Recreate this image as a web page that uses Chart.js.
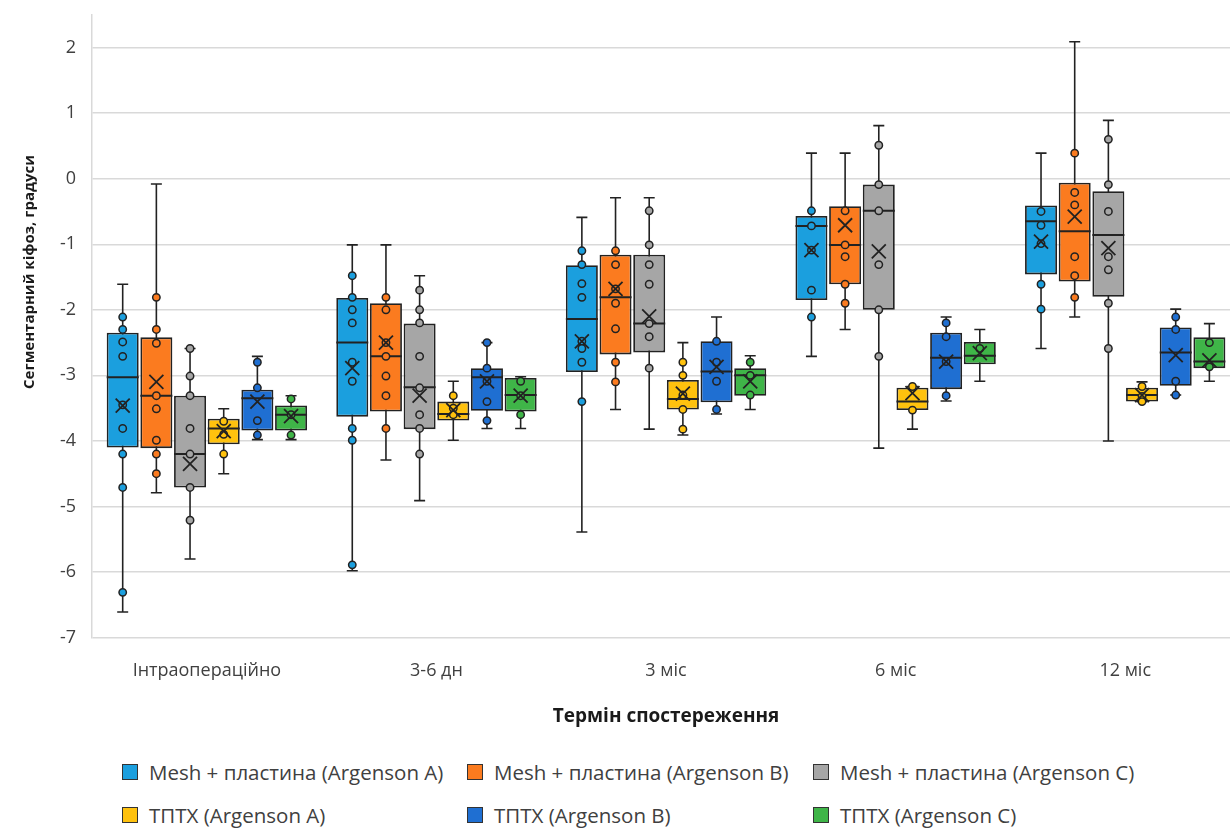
<!DOCTYPE html>
<html>
<head>
<meta charset="utf-8">
<script src="https://cdn.jsdelivr.net/npm/chart.js@4/dist/chart.umd.min.js"></script>
<style>
  html, body { margin: 0; padding: 0; background: #fff; overflow: hidden; }
  body { width: 1230px; height: 828px; position: relative; font-family: 'Open Sans', sans-serif; }
  #wrap { position: absolute; left: 0; top: -12px; width: 1240px; height: 744px; }
  #legend { position: absolute; left: 0; top: 748px; width: 1230px; }
  .item { position: absolute; display: flex; align-items: center; font-size: 20.5px; color: #404040; white-space: nowrap; }
  .sw { width: 16px; height: 16px; border: 1.5px solid #333; margin-right: 11px; box-sizing: border-box; }
</style>
</head>
<body>
<div id="wrap"><canvas id="chart"></canvas></div>
<div id="legend"></div>
<script>
// categories and series
const categories = ['Інтраопераційно', '3-6 дн', '3 міс', '6 міс', '12 міс'];
const seriesNames = [
  'Mesh + пластина (Argenson A)', 'Mesh + пластина (Argenson B)', 'Mesh + пластина (Argenson C)',
  'ТПТХ (Argenson A)', 'ТПТХ (Argenson B)', 'ТПТХ (Argenson C)'
];
const colors = ['#1b9fde', '#fb7b1f', '#a6a6a6', '#ffc20e', '#1f6fd2', '#3fb548'];
const yTicks = [-7, -6, -5, -4, -3, -2, -1, 0, 1, 2];
const yTitle = 'Сегментарний кіфоз, градуси';

// [min, q1, median, q3, max, mean] per category
const meshA = [
  [-6.61, -4.10, -3.03, -2.35, -1.61, -3.46],
  [-5.98, -3.63, -2.50, -1.82, -1.01, -2.89],
  [-5.39, -2.95, -2.14, -1.32, -0.59, -2.48],
  [-2.71, -1.85, -0.72, -0.57, 0.39, -1.09],
  [-2.59, -1.46, -0.65, -0.41, 0.39, -0.96]
];
const meshB = [
  [-4.79, -4.11, -3.31, -2.42, -0.08, -3.10],
  [-4.29, -3.55, -2.71, -1.90, -1.01, -2.50],
  [-3.52, -2.68, -1.81, -1.16, -0.29, -1.68],
  [-2.30, -1.61, -1.01, -0.42, 0.39, -0.71],
  [-2.11, -1.57, -0.80, -0.06, 2.09, -0.58]
];
const meshC = [
  [-5.80, -4.71, -4.20, -3.31, -2.59, -4.35],
  [-4.91, -3.82, -3.18, -2.21, -1.48, -3.31],
  [-3.82, -2.65, -2.21, -1.16, -0.29, -2.10],
  [-4.11, -2.00, -0.49, -0.09, 0.81, -1.11],
  [-4.00, -1.80, -0.86, -0.19, 0.89, -1.06]
];
const tpthA = [
  [-4.50, -4.05, -3.81, -3.66, -3.51, -3.85],
  [-3.99, -3.69, -3.59, -3.40, -3.09, -3.53],
  [-3.91, -3.52, -3.36, -3.07, -2.50, -3.28],
  [-3.82, -3.53, -3.40, -3.19, -3.17, -3.27],
  [-3.40, -3.40, -3.30, -3.19, -3.10, -3.30]
];
const tpthB = [
  [-3.98, -3.84, -3.35, -3.22, -2.71, -3.40],
  [-3.81, -3.54, -3.03, -2.89, -2.50, -3.09],
  [-3.59, -3.41, -2.94, -2.48, -2.11, -2.87],
  [-3.39, -3.21, -2.73, -2.35, -2.11, -2.79],
  [-3.30, -3.16, -2.65, -2.27, -1.99, -2.69]
];
const tpthC = [
  [-3.98, -3.84, -3.60, -3.46, -3.31, -3.62],
  [-3.81, -3.55, -3.30, -3.04, -3.02, -3.31],
  [-3.52, -3.31, -3.00, -2.89, -2.70, -3.09],
  [-3.09, -2.83, -2.70, -2.49, -2.30, -2.66],
  [-3.09, -2.89, -2.79, -2.42, -2.21, -2.77]
];

// individual points per category
const meshAPts = [
  [-2.11, -2.30, -2.49, -2.71, -3.45, -3.81, -4.20, -4.71, -6.31],
  [-1.48, -1.81, -2.00, -2.20, -2.80, -3.09, -3.81, -3.99, -5.89],
  [-1.10, -1.31, -1.60, -1.81, -2.48, -2.59, -2.80, -3.40],
  [-0.49, -0.72, -1.09, -1.70, -2.11],
  [-0.50, -0.71, -0.99, -1.61, -1.99]
];
const meshBPts = [
  [-1.81, -2.30, -2.51, -3.31, -3.51, -3.99, -4.20, -4.50],
  [-1.81, -2.00, -2.50, -2.71, -3.01, -3.31, -3.81],
  [-1.10, -1.31, -1.68, -1.90, -2.29, -2.80, -3.10],
  [-0.49, -1.01, -1.19, -1.61, -1.90],
  [0.39, -0.21, -0.40, -1.19, -1.48, -1.81]
];
const meshCPts = [
  [-2.59, -3.01, -3.31, -3.81, -4.20, -4.71, -5.21],
  [-1.70, -2.00, -2.20, -2.71, -3.19, -3.60, -3.81, -4.20],
  [-0.49, -1.01, -1.31, -1.61, -2.21, -2.41, -2.89],
  [0.51, -0.09, -0.49, -1.31, -2.00, -2.71],
  [0.60, -0.09, -0.50, -1.19, -1.39, -1.90, -2.59]
];
const tpthAPts = [
  [-3.70, -3.90, -4.20],
  [-3.31, -3.50, -3.60],
  [-2.80, -3.00, -3.30, -3.52, -3.82],
  [-3.17, -3.53],
  [-3.17, -3.32, -3.40]
];
const tpthBPts = [
  [-2.80, -3.19, -3.69, -3.91],
  [-2.50, -2.89, -3.09, -3.40, -3.69],
  [-2.48, -2.80, -3.09, -3.52],
  [-2.20, -2.41, -2.79, -3.31],
  [-2.11, -2.30, -3.09, -3.30]
];
const tpthCPts = [
  [-3.36, -3.60, -3.91],
  [-3.09, -3.31, -3.60],
  [-2.80, -3.00, -3.30],
  [-2.59],
  [-2.50, -2.87]
];

const stats = [meshA, meshB, meshC, tpthA, tpthB, tpthC];
const points = [meshAPts, meshBPts, meshCPts, tpthAPts, tpthBPts, tpthCPts];

Chart.defaults.font.family = "'Open Sans', sans-serif";
Chart.defaults.color = '#404040';

const INK = '#222';

// whiskers behind the boxes, median / mean / points on top
const boxPlot = {
  id: 'boxPlot',
  beforeDatasetsDraw(chart) {
    const ctx = chart.ctx;
    const y = chart.scales.y;
    ctx.save();
    ctx.strokeStyle = INK;
    ctx.lineWidth = 1.6;
    stats.forEach((series, i) => {
      chart.getDatasetMeta(i).data.forEach((bar, j) => {
        const s = series[j];
        const yMin = y.getPixelForValue(s[0]);
        const yMax = y.getPixelForValue(s[4]);
        ctx.beginPath();
        ctx.moveTo(bar.x, yMax);
        ctx.lineTo(bar.x, yMin);
        ctx.moveTo(bar.x - 5.5, yMax);
        ctx.lineTo(bar.x + 5.5, yMax);
        ctx.moveTo(bar.x - 5.5, yMin);
        ctx.lineTo(bar.x + 5.5, yMin);
        ctx.stroke();
      });
    });
    ctx.restore();
  },
  afterDatasetsDraw(chart) {
    const ctx = chart.ctx;
    const y = chart.scales.y;
    ctx.save();
    stats.forEach((series, i) => {
      chart.getDatasetMeta(i).data.forEach((bar, j) => {
        const s = series[j];
        const half = bar.width / 2;
        ctx.strokeStyle = INK;
        ctx.lineWidth = 2;
        const ym = y.getPixelForValue(s[2]);
        ctx.beginPath();
        ctx.moveTo(bar.x - half, ym);
        ctx.lineTo(bar.x + half, ym);
        ctx.stroke();
        ctx.lineWidth = 1.5;
        ctx.fillStyle = colors[i];
        points[i][j].forEach(v => {
          ctx.beginPath();
          ctx.arc(bar.x, y.getPixelForValue(v), 3.7, 0, Math.PI * 2);
          ctx.fill();
          ctx.stroke();
        });
        const yMean = y.getPixelForValue(s[5]);
        ctx.lineWidth = 1.8;
        ctx.beginPath();
        ctx.moveTo(bar.x - 7, yMean - 7);
        ctx.lineTo(bar.x + 7, yMean + 7);
        ctx.moveTo(bar.x + 7, yMean - 7);
        ctx.lineTo(bar.x - 7, yMean + 7);
        ctx.stroke();
      });
    });
    ctx.restore();
  },
  afterDraw(chart) {
    const ctx = chart.ctx;
    ctx.save();
    ctx.translate(30, 284);
    ctx.rotate(-Math.PI / 2);
    ctx.font = "bold 15px 'Open Sans', sans-serif";
    ctx.fillStyle = '#1a1a1a';
    ctx.textAlign = 'center';
    ctx.textBaseline = 'middle';
    ctx.fillText(yTitle, 0, 0);
    ctx.restore();
  }
};

const chart = new Chart(document.getElementById('chart'), {
  type: 'bar',
  data: {
    labels: categories,
    datasets: seriesNames.map((name, i) => ({
      label: name,
      data: stats[i].map(s => [s[1], s[3]]),
      backgroundColor: colors[i],
      borderColor: INK,
      borderWidth: 1.8,
      borderSkipped: false,
      categoryPercentage: 0.88,
      barPercentage: 0.95
    }))
  },
  options: {
    responsive: true,
    maintainAspectRatio: false,
    animation: false,
    layout: { padding: { top: 0, right: 0, left: 44, bottom: 0 } },
    plugins: {
      legend: { display: false },
      tooltip: { enabled: false }
    },
    scales: {
      x: {
        grid: { display: false },
        border: { display: false },
        ticks: { font: { size: 18 }, color: '#404040', padding: 14 },
        title: {
          display: true,
          text: 'Термін спостереження',
          font: { size: 19, weight: 'bold' },
          color: '#1a1a1a',
          padding: { top: 10 }
        }
      },
      y: {
        min: -7,
        max: 2.5,
        afterBuildTicks: axis => { axis.ticks = yTicks.map(v => ({ value: v })); },
        grid: { color: '#d9d9d9', lineWidth: 1.5, drawTicks: false },
        border: { display: true, color: '#d9d9d9', width: 1.5 },
        ticks: { font: { size: 18 }, color: '#404040', padding: 16 }
      }
    }
  },
  plugins: [boxPlot]
});

// legend in two rows of three
const legend = document.getElementById('legend');
const colX = [122, 467, 813];
const rowY = [10, 53];
seriesNames.forEach((name, i) => {
  const item = document.createElement('div');
  item.className = 'item';
  item.style.left = colX[i % 3] + 'px';
  item.style.top = rowY[Math.floor(i / 3)] + 'px';
  const sw = document.createElement('span');
  sw.className = 'sw';
  sw.style.background = colors[i];
  item.appendChild(sw);
  item.appendChild(document.createTextNode(name));
  legend.appendChild(item);
});
</script>
</body>
</html>
